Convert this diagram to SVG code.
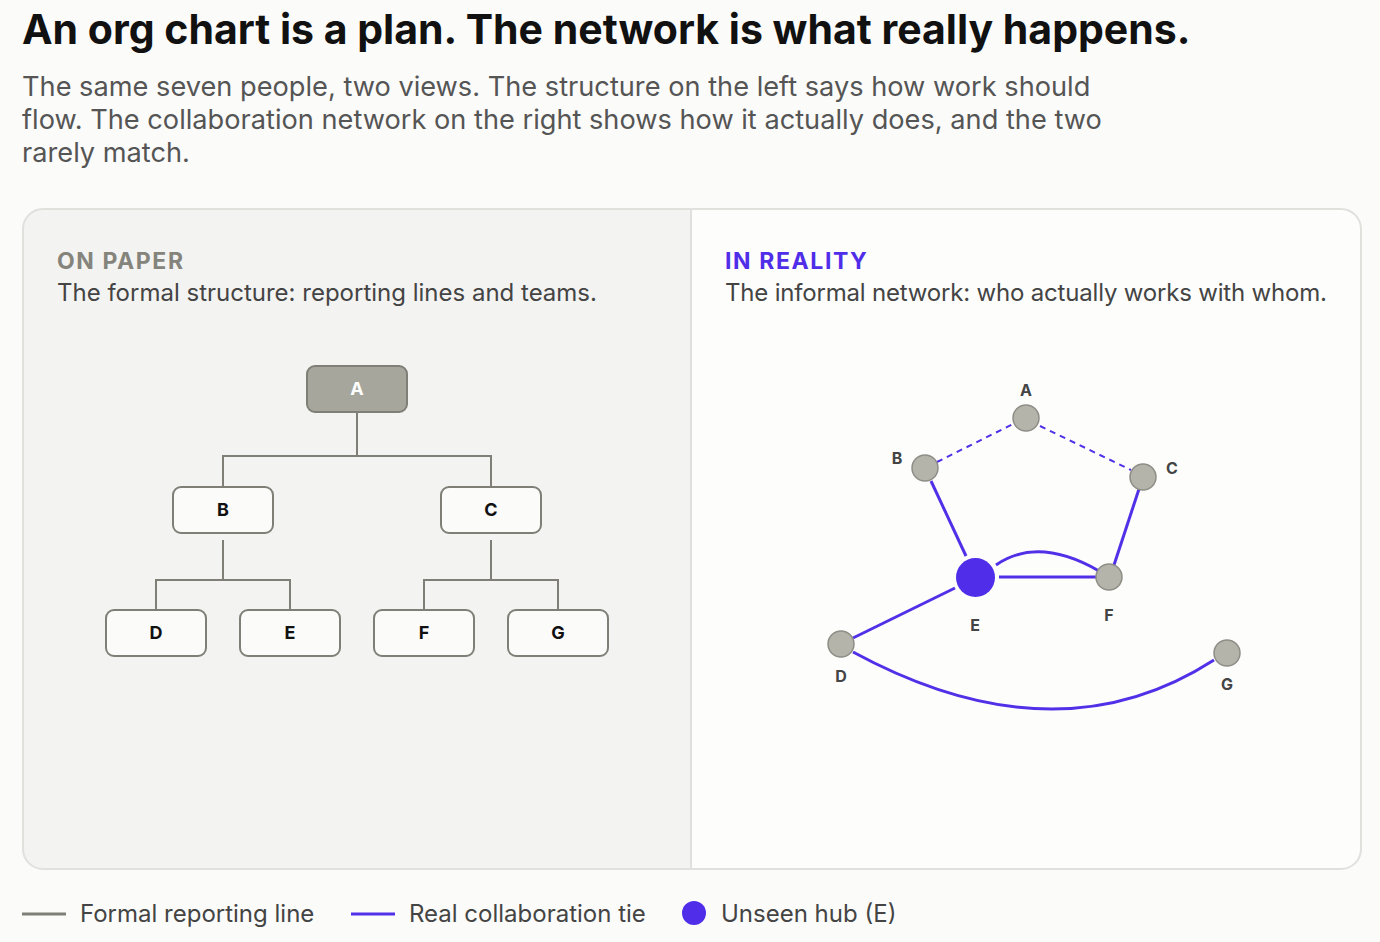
<svg xmlns="http://www.w3.org/2000/svg" width="1380" height="942" viewBox="0 0 1380 942">
<style>
text{font-family:Inter,"Noto Sans","Liberation Sans",sans-serif}
.title{font-size:41px;font-weight:700;fill:#111}
.sub{font-size:27.2px;fill:#555}
.kick{font-size:23px;font-weight:700;letter-spacing:1.6px}
.desc{font-size:24px;fill:#444}
.box{fill:#fbfbfa;stroke:#7f7f77;stroke-width:2}
.boxtop{fill:#a7a69d;stroke:#7f7f77;stroke-width:2}
.bl{font-size:18px;font-weight:700;fill:#111;text-anchor:middle}
.formal{fill:none;stroke:#7f7f77;stroke-width:2}
.tie{fill:none;stroke:#5230e8;stroke-width:3;stroke-linecap:butt}
.dash{fill:none;stroke:#5230e8;stroke-width:2;stroke-dasharray:6 5}
.nd{fill:#b5b4ab;stroke:#8e8d86;stroke-width:1.5}
.nl{font-size:16px;font-weight:700;fill:#444;text-anchor:middle}
.leg{font-size:24px;fill:#444}
</style>
<rect width="1380" height="942" fill="#fbfbfa"/>
<text class="title" x="22" y="44">An org chart is a plan. The network is what really happens.</text>
<text class="sub" x="22" y="96">The same seven people, two views. The structure on the left says how work should</text>
<text class="sub" x="22" y="129">flow. The collaboration network on the right shows how it actually does, and the two</text>
<text class="sub" x="22" y="162">rarely match.</text>

<g id="panel">
<path d="M691 209 H43 A20 20 0 0 0 23 229 V849 A20 20 0 0 0 43 869 H691 Z" fill="#f3f3f2"/>
<path d="M691 209 H1341 A20 20 0 0 1 1361 229 V849 A20 20 0 0 1 1341 869 H691 Z" fill="#fdfdfc"/>
<rect x="23" y="209" width="1338" height="660" rx="20" fill="none" stroke="#e0e0dc" stroke-width="2"/>
<line x1="691" y1="209" x2="691" y2="869" stroke="#e0e0dc" stroke-width="2"/>
</g>

<text class="kick" x="57" y="269" fill="#85847c">ON PAPER</text>
<text class="desc" x="57" y="301">The formal structure: reporting lines and teams.</text>
<text class="kick" x="725" y="269" fill="#4f2de9">IN REALITY</text>
<text class="desc" x="725" y="301" textLength="602">The informal network: who actually works with whom.</text>

<g id="org-connectors">
<path class="formal" d="M357 412 V456 M223 486 V456 H491 V486"/>
<path class="formal" d="M223 540 V580 M156 610 V580 H290 V610"/>
<path class="formal" d="M491 540 V580 M424 610 V580 H558 V610"/>
</g>
<g id="org-A"><rect class="boxtop" x="307" y="366" width="100" height="46" rx="8"/><text class="bl" x="357" y="395" style="fill:#fff">A</text></g>
<g id="org-B"><rect class="box" x="173" y="487" width="100" height="46" rx="8"/><text class="bl" x="223" y="516">B</text></g>
<g id="org-C"><rect class="box" x="441" y="487" width="100" height="46" rx="8"/><text class="bl" x="491" y="516">C</text></g>
<g id="org-D"><rect class="box" x="106" y="610" width="100" height="46" rx="8"/><text class="bl" x="156" y="639">D</text></g>
<g id="org-E"><rect class="box" x="240" y="610" width="100" height="46" rx="8"/><text class="bl" x="290" y="639">E</text></g>
<g id="org-F"><rect class="box" x="374" y="610" width="100" height="46" rx="8"/><text class="bl" x="424" y="639">F</text></g>
<g id="org-G"><rect class="box" x="508" y="610" width="100" height="46" rx="8"/><text class="bl" x="558" y="639">G</text></g>

<g id="net-connectors">
<line class="dash" x1="937" y1="462" x2="1013" y2="424"/>
<line class="dash" x1="1040" y1="426" x2="1131" y2="470"/>
<line class="tie" x1="931" y1="481" x2="966" y2="556"/>
<line class="tie" x1="1139" y1="489" x2="1114" y2="565"/>
<line class="tie" x1="999" y1="577" x2="1097" y2="577"/>
<path class="tie" d="M996 565 Q1038 536 1099 571"/>
<line class="tie" x1="955" y1="588" x2="853" y2="638"/>
<path class="tie" d="M853 652 Q1056 762 1214 660"/>
</g>
<g id="net-A"><circle class="nd" cx="1026" cy="418" r="13"/><text class="nl" x="1026" y="396">A</text></g>
<g id="net-B"><circle class="nd" cx="925" cy="468" r="13"/><text class="nl" x="897" y="464">B</text></g>
<g id="net-C"><circle class="nd" cx="1143" cy="477" r="13"/><text class="nl" x="1172" y="474">C</text></g>
<g id="net-E"><circle cx="975.5" cy="577.5" r="19.5" fill="#4f2de9"/><text class="nl" x="975" y="631">E</text></g>
<g id="net-F"><circle class="nd" cx="1109" cy="577" r="13"/><text class="nl" x="1109" y="621">F</text></g>
<g id="net-D"><circle class="nd" cx="841" cy="644" r="13"/><text class="nl" x="841" y="682">D</text></g>
<g id="net-G"><circle class="nd" cx="1227" cy="653" r="13"/><text class="nl" x="1227" y="690">G</text></g>

<g id="legend">
<line x1="22" y1="914" x2="66" y2="914" stroke="#7f7f77" stroke-width="3"/>
<text class="leg" x="80" y="922">Formal reporting line</text>
<line x1="351" y1="914" x2="395" y2="914" stroke="#5230e8" stroke-width="3"/>
<text class="leg" x="409" y="922">Real collaboration tie</text>
<circle cx="694" cy="913" r="12" fill="#4f2de9"/>
<text class="leg" x="721" y="922">Unseen hub (E)</text>
</g>
</svg>
